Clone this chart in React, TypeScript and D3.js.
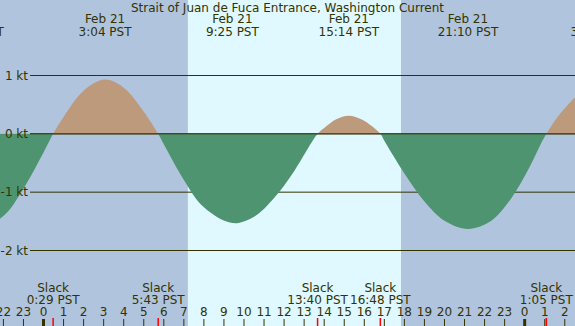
import React from 'react';
import * as d3 from 'd3';

const width = 575;
const height = 326;

// hours after midnight Feb 21 (PST) and current speed in knots
const readingHours = [-3.5, -2, -1, 0, 0.48, 1, 2, 3.07, 4, 5, 5.72, 6, 7, 8, 9.42, 10.5, 11.5, 12.5, 13.67, 14, 14.6, 15.23, 15.9, 16.8, 17, 18, 19, 20, 21.17, 22.3, 23.3, 24.2, 25.08, 26, 27, 27.6];
const readingKnots = [-1.7, -1.41, -0.94, -0.32, 0, 0.29, 0.74, 0.93, 0.79, 0.38, 0, -0.18, -0.79, -1.26, -1.53, -1.42, -1.1, -0.64, 0, 0.1, 0.25, 0.31, 0.24, 0, -0.12, -0.68, -1.16, -1.49, -1.63, -1.5, -1.12, -0.6, 0, 0.44, 0.75, 0.8];

// max flood / max ebb events
const peakHours = [-3.49, 3.07, 9.42, 15.23, 21.17, 27.6];
const peakDays = ['Feb 20', 'Feb 21', 'Feb 21', 'Feb 21', 'Feb 21', 'Feb 22'];
const peakLabels = ['20:31 PST', '3:04 PST', '9:25 PST', '15:14 PST', '21:10 PST', '3:36 PST'];

// slack water
const slackHours = [0.48, 5.72, 13.67, 16.8, 25.08];
const slackLabels = ['0:29 PST', '5:43 PST', '13:40 PST', '16:48 PST', '1:05 PST'];

const knotTicks = [1, 0, -1, -2];
const hourTicks = d3.range(-2, 27);
const sunrise = 7.2;
const sunset = 17.83;

const ink = '#333300';
const font = 'DejaVu Sans, sans-serif';

export default function App() {
  const x = d3.scaleLinear().domain([-2.17, 26.51]).range([0, width]);
  const y = d3.scaleLinear().domain([-2, 1]).range([250.5, 75.5]);

  const pts = readingHours.map((h, i) => [h, readingKnots[i]] as [number, number]);
  const area = d3
    .area<[number, number]>()
    .x(d => x(d[0]))
    .y0(y(0))
    .y1(d => y(d[1]))
    .curve(d3.curveCatmullRom.alpha(0.5));
  const path = area(pts) || '';

  return (
    <>
      <style>{'body{margin:0}'}</style>
      <svg width={width} height={height} style={{ display: 'block' }} fontFamily={font}>
        <defs>
          <clipPath id="flood">
            <rect x={0} y={0} width={width} height={y(0)} />
          </clipPath>
          <clipPath id="ebb">
            <rect x={0} y={y(0)} width={width} height={height - y(0)} />
          </clipPath>
        </defs>

        <rect x={0} y={0} width={width} height={height} fill="#b0c4de" />
        <rect x={x(sunrise)} y={0} width={x(sunset) - x(sunrise)} height={height} fill="#e0f8ff" />

        {knotTicks.map(k => (
          <line key={k} x1={30} x2={width} y1={y(k)} y2={y(k)} stroke={ink} strokeWidth={1} />
        ))}

        <path d={path} fill="#bc9a7b" clipPath="url(#flood)" />
        <path d={path} fill="#4f9470" clipPath="url(#ebb)" />
        <line x1={30} x2={width} y1={y(0)} y2={y(0)} stroke={ink} strokeWidth={1} />

        {knotTicks.map(k => (
          <text key={k} x={28} y={y(k) + 4} textAnchor="end" fontSize={12} fill={ink}>
            {k} kt
          </text>
        ))}

        <text x={width / 2} y={12} textAnchor="middle" fontSize={12} fill={ink}>
          Strait of Juan de Fuca Entrance, Washington Current
        </text>

        {peakHours.map((h, i) => (
          <g key={i} fontSize={12} fill={ink} textAnchor="middle">
            <text x={x(h)} y={23}>{peakDays[i]}</text>
            <text x={x(h)} y={36}>{peakLabels[i]}</text>
          </g>
        ))}

        {slackHours.map((h, i) => (
          <g key={i} fontSize={12} fill={ink} textAnchor="middle">
            <text x={x(h)} y={292}>Slack</text>
            <text x={x(h)} y={304}>{slackLabels[i]}</text>
            <line x1={x(h)} x2={x(h)} y1={318} y2={height} stroke="#ff0000" strokeWidth={1.5} />
          </g>
        ))}

        {hourTicks.map(h => {
          const hh = ((h % 24) + 24) % 24;
          return (
            <g key={h}>
              <text x={x(h)} y={316} textAnchor="middle" fontSize={12} fill={ink}>
                {hh}
              </text>
              <line
                x1={x(h)}
                x2={x(h)}
                y1={319}
                y2={height}
                stroke={ink}
                strokeWidth={hh === 0 ? 3 : 1}
              />
            </g>
          );
        })}
      </svg>
    </>
  );
}
